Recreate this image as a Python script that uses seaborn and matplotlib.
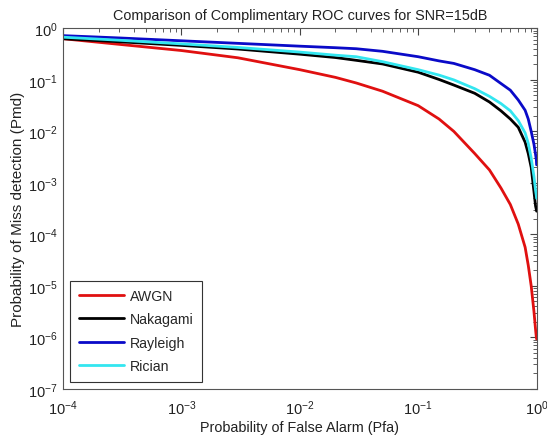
import numpy as np
import pandas as pd
import seaborn as sns
import matplotlib
matplotlib.use("Agg")
import matplotlib.pyplot as plt
from matplotlib.ticker import LogLocator, NullFormatter

# values
pfa = [1e-4, 3e-4, 1e-3, 3e-3, 1e-2, 2e-2, 3e-2, 5e-2, 0.1, 0.15, 0.2, 0.3, 0.4,
       0.5, 0.6, 0.7, 0.8, 0.85, 0.9, 0.95, 0.98, 0.995, 1.0]
pmd_awgn = [0.631, 0.490, 0.372, 0.269, 0.158, 0.112, 0.0871, 0.0603, 0.0316, 0.0174, 0.0100,
            0.00372, 0.00178, 0.000794, 0.000380, 0.000158, 5.62e-5, 2.51e-5, 1.0e-5,
            3.16e-6, 1.41e-6, 1.0e-6, 9.3e-7]
pmd_nakagami = [0.631, 0.550, 0.468, 0.398, 0.316, 0.272, 0.240, 0.204, 0.141, 0.102, 0.0794,
                0.0550, 0.0372, 0.0251, 0.0174, 0.0120, 0.00617, 0.00372, 0.00200,
                0.000676, 0.000355, 0.000302, 0.000282]
pmd_rayleigh = [0.724, 0.653, 0.575, 0.513, 0.452, 0.422, 0.403, 0.359, 0.282, 0.234, 0.209,
                0.158, 0.123, 0.0851, 0.0631, 0.0407, 0.0257, 0.0174, 0.0100,
                0.00562, 0.00355, 0.00282, 0.00224]
pmd_rician = [0.676, 0.589, 0.501, 0.427, 0.347, 0.302, 0.282, 0.226, 0.158, 0.124, 0.100,
              0.0676, 0.0479, 0.0347, 0.0251, 0.0162, 0.00933, 0.00589, 0.00302,
              0.00132, 0.000708, 0.000562, 0.000501]
channels = ["AWGN", "Nakagami", "Rayleigh", "Rician"]
colors = ["#e01010", "#000000", "#0a0ac8", "#33e6f0"]

df = pd.concat([
    pd.DataFrame({"pfa": pfa, "pmd": v, "channel": c})
    for c, v in zip(channels, [pmd_awgn, pmd_nakagami, pmd_rayleigh, pmd_rician])
])

sns.set_style("white")
plt.rcParams["font.family"] = ["Liberation Sans", "DejaVu Sans"]
plt.rcParams["mathtext.fontset"] = "custom"
plt.rcParams["mathtext.rm"] = "Liberation Sans"

fig = plt.figure(figsize=(5.47, 4.39), dpi=100)
ax = fig.add_axes([0.115, 0.112, 0.866, 0.821])

sns.lineplot(data=df, x="pfa", y="pmd", hue="channel", hue_order=channels,
             palette=colors, estimator=None, sort=False, linewidth=2, ax=ax)

ax.set_xscale("log")
ax.set_yscale("log")
ax.set_xlim(1e-4, 1)
ax.set_ylim(1e-7, 1)
ax.xaxis.set_major_locator(LogLocator(base=10, numticks=10))
ax.yaxis.set_major_locator(LogLocator(base=10, numticks=10))
ax.xaxis.set_minor_locator(LogLocator(base=10, subs=np.arange(2, 10), numticks=20))
ax.yaxis.set_minor_locator(LogLocator(base=10, subs=np.arange(2, 10), numticks=20))
ax.xaxis.set_minor_formatter(NullFormatter())
ax.yaxis.set_minor_formatter(NullFormatter())
ax.tick_params(which="both", direction="in", top=True, right=True,
               colors="#444444", labelcolor="#222222", labelsize=10.5)
ax.tick_params(which="major", length=5, width=0.8)
ax.tick_params(which="minor", length=3, width=0.6)
ax.tick_params(axis="x", which="major", pad=7)
ax.tick_params(axis="y", which="major", pad=4)
for s in ax.spines.values():
    s.set_color("#555555")
    s.set_linewidth(0.8)

ax.set_title("Comparison of Complimentary ROC curves for SNR=15dB", fontsize=10.4, color="#222222", pad=7)
ax.set_xlabel("Probability of False Alarm (Pfa)", fontsize=10.4, color="#222222", labelpad=2)
ax.set_ylabel("Probability of Miss detection (Pmd)", fontsize=11, color="#222222", labelpad=2)

handles, labels = ax.get_legend_handles_labels()
leg = ax.legend(handles, labels, loc="lower left", bbox_to_anchor=(0.015, 0.02),
                borderaxespad=0, fancybox=False, framealpha=1, edgecolor="#333333",
                fontsize=10.2, handlelength=3.2, labelspacing=0.66, handletextpad=0.4,
                borderpad=0.6)
leg.get_frame().set_linewidth(0.8)

fig.savefig("out.png", dpi=100)
